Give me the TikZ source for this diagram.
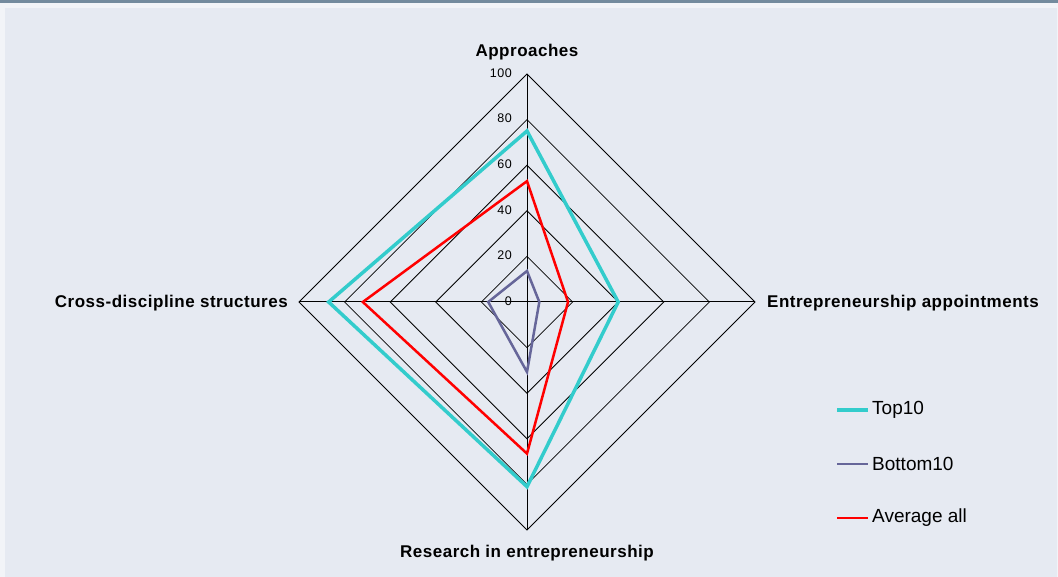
\documentclass[tikz,border=0pt]{standalone}
\usepackage{fontspec}
\setmainfont{Liberation Sans}
\newfontfamily\lblfont[LetterSpace=3]{Liberation Sans}
\newfontfamily\tickfont[LetterSpace=4]{Liberation Sans}
\definecolor{bgc}{HTML}{E6EAF2}
\definecolor{bgout}{HTML}{F2F4F8}
\definecolor{topbar}{HTML}{748B9E}
\definecolor{cteal}{HTML}{33CCCC}
\definecolor{cpurple}{HTML}{666699}
\definecolor{cred}{HTML}{FF0000}
\begin{document}
\begin{tikzpicture}[x=1pt,y=-1pt,
  gridline/.style={black,line width=0.8pt,line join=miter},
  axisline/.style={black,line width=1pt},
  ticklbl/.style={anchor=east,inner sep=0pt,font=\tickfont\fontsize{12.5}{12.5}\selectfont},
  axlbl/.style={inner sep=0pt,font=\lblfont\fontsize{17}{17}\selectfont\bfseries},
  toptensty/.style={cteal,line width=3.5pt,line join=miter},
  bottensty/.style={cpurple,line width=2.5pt,line join=miter},
  avgsty/.style={cred,line width=2.5pt,line join=miter},
  legtxt/.style={anchor=west,inner sep=0pt,font=\fontsize{19}{19}\selectfont}]
\useasboundingbox (0,0) rectangle (1058,577);
\fill[bgout] (0,0) rectangle (1058,577);
\fill[bgc] (5,8) rectangle (1057,577);
\fill[topbar] (0,0) rectangle (1058,3);
\def\k{2.28}
\coordinate (O) at (527,302);
% grid rings
\foreach \v in {20,40,60,80,100}{
  \draw[gridline] (527,{302-\v*\k}) -- ({527+\v*\k},302) -- (527,{302+\v*\k}) -- ({527-\v*\k},302) -- cycle;
}
% axes
\coordinate (AT) at (527,{302-100*\k});
\coordinate (AR) at ({527+100*\k},302);
\coordinate (AB) at (527,{302+100*\k});
\coordinate (AL) at ({527-100*\k},302);
\draw[axisline] (AT) -- (AB);
\draw[axisline] (AL) -- (AR);
% tick labels
\foreach \v in {0,20,40,60,80,100}{
  \node[ticklbl] (t\v) at (512,{301-\v*\k}) {\v};
}
% series
\draw[toptensty] (527,{302-75*\k}) -- ({527+40*\k},302) -- (527,{302+81*\k}) -- ({527-87*\k},302) -- cycle;
\draw[avgsty] (527,{302-53*\k}) -- ({527+18*\k},302) -- (527,{302+66.5*\k}) -- ({527-72*\k},302) -- cycle;
\draw[bottensty] (527,{302-13.6*\k}) -- ({527+5.4*\k},302) -- (527,{302+30.7*\k}) -- ({527-17*\k},302) -- cycle;
% axis labels
\node[axlbl] (lapp) at (527,52) {Approaches};
\node[axlbl,anchor=west] (lent) at (767,303) {Entrepreneurship appointments};
\node[axlbl,anchor=east] (lcross) at (288,303) {Cross-discipline structures};
\node[axlbl] (lres) at (527,553) {Research in entrepreneurship};
% legend
\coordinate (g1a) at (837,410); \coordinate (g1b) at (868,410);
\coordinate (g2a) at (837,464); \coordinate (g2b) at (868,464);
\coordinate (g3a) at (837,518); \coordinate (g3b) at (868,518);
\draw[toptensty] (g1a) -- (g1b);
\draw[bottensty] (g2a) -- (g2b);
\draw[avgsty] (g3a) -- (g3b);
\node[legtxt] (ltop) at (872,410) {Top10};
\node[legtxt] (lbot) at (872,464) {Bottom10};
\node[legtxt] (lavg) at (872,518) {Average all};
\end{tikzpicture}
\end{document}
